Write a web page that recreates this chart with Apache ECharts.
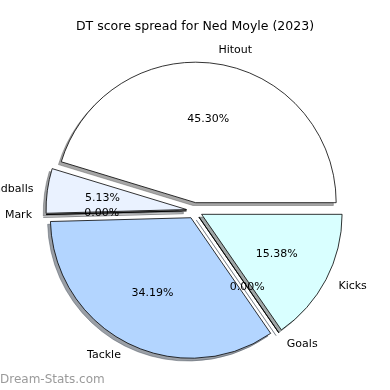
<!DOCTYPE html>
<html>
<head>
<meta charset="utf-8">
<script src="https://cdn.jsdelivr.net/npm/echarts@6/dist/echarts.min.js"></script>
<style>html,body{margin:0;padding:0;background:#fff}#c{width:390px;height:390px}</style>
</head>
<body>
<div id="c"></div>
<script>
const categories = ['Hitout', 'Handballs', 'Mark', 'Tackle', 'Goals', 'Kicks'];
const values = [53, 6, 0, 40, 0, 18];
const colors = ['#ffffff', '#eaf2ff', '#eaf2ff', '#b3d5ff', '#b3d5ff', '#d9ffff'];
const titleText = 'DT score spread for Ned Moyle (2023)';
const watermark = 'Dream-Stats.com';

const total = values.reduce((a, b) => a + b, 0);
const FONT = 'DejaVu Sans';
const R = 140.5;
const CENTER = [194.5, 210.6];
const OFFSET = 8;
const SH = 2.8;

function shadowColor(hex) {
  const n = parseInt(hex.slice(1), 16);
  const r = Math.round(((n >> 16) & 255) * 0.3);
  const g = Math.round(((n >> 8) & 255) * 0.3);
  const b = Math.round((n & 255) * 0.3);
  return 'rgba(' + r + ',' + g + ',' + b + ',0.5)';
}

const chart = echarts.init(document.getElementById('c'), null, {renderer: 'canvas'});

const common = {
  type: 'pie',
  startAngle: 0,
  clockwise: false,
  selectedMode: 'multiple',
  selectedOffset: OFFSET,
  avoidLabelOverlap: false,
  silent: true,
  emphasis: {disabled: true}
};

const shadowData = categories.map((name, i) => {
  const st = {color: shadowColor(colors[i]), borderColor: shadowColor(colors[i]), borderWidth: 0.8};
  return {name, value: values[i], selected: true, itemStyle: st, select: {itemStyle: st}};
});
const outerData = categories.map((name, i) => {
  const st = {color: colors[i], borderColor: '#000', borderWidth: 0.8};
  return {name, value: values[i], selected: true, itemStyle: st, select: {itemStyle: st}};
});
const innerData = categories.map((name, i) => ({name, value: values[i], selected: true}));

chart.setOption({
  animation: false,
  title: [
    {text: titleText, left: 'center', top: 20, padding: 0,
     textStyle: {fontFamily: FONT, fontSize: 12.5, fontWeight: 'normal', color: '#000'}},
    {text: watermark, left: 0, top: 374, padding: 0,
     textStyle: {fontFamily: FONT, fontSize: 12, fontWeight: 'normal', color: 'rgba(120,120,120,0.75)'}}
  ],
  series: [
    Object.assign({}, common, {
      z: 1,
      center: [CENTER[0] - SH, CENTER[1] + SH],
      radius: [0, R],
      label: {show: false},
      labelLine: {show: false},
      data: shadowData
    }),
    Object.assign({}, common, {
      z: 2,
      center: CENTER,
      radius: [0, R],
      select: {label: {color: '#000'}},
      label: {
        show: true, position: 'outside',
        fontFamily: FONT, fontSize: 11, color: '#000',
        distanceToLabelLine: 0, width: 120, overflow: 'none'
      },
      labelLine: {show: false, length: R * 0.1, length2: 0},
      data: outerData
    }),
    Object.assign({}, common, {
      z: 3,
      center: CENTER,
      radius: [0, R * 1.2 - 5],
      itemStyle: {color: 'rgba(0,0,0,0)', borderWidth: 0},
      select: {itemStyle: {color: 'rgba(0,0,0,0)', borderWidth: 0}, label: {color: '#000'}},
      label: {
        show: true, position: 'inside',
        fontFamily: FONT, fontSize: 11, color: '#000',
        formatter: p => (p.value / total * 100).toFixed(2) + '%'
      },
      labelLine: {show: false},
      data: innerData
    })
  ]
});
</script>
</body>
</html>
